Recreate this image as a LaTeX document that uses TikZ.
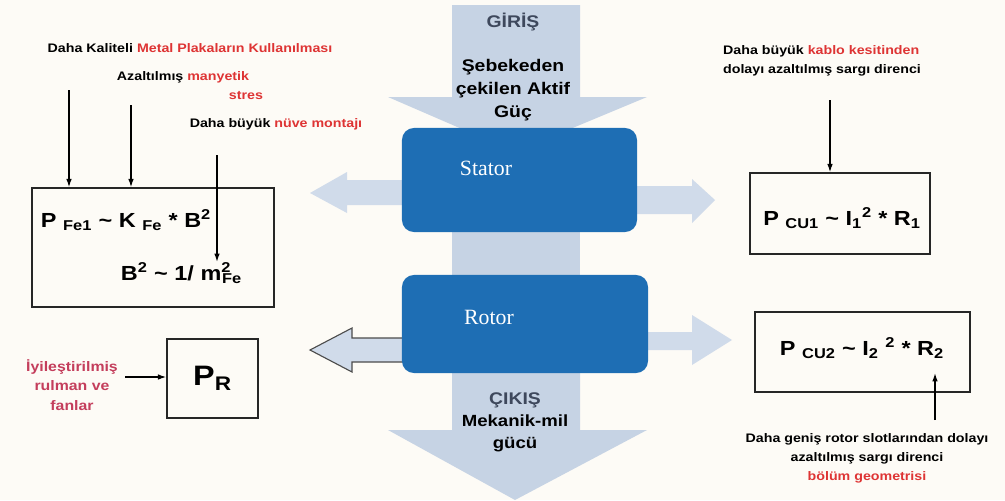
\documentclass[tikz,border=0pt]{standalone}
\usepackage{fontspec}
\setmainfont{Liberation Sans}[FakeStretch=1.15]
\newfontfamily\blockfont{Liberation Serif}
\usepackage{xcolor}
\usetikzlibrary{
    arrows.meta,
    positioning,
    calc
}
\definecolor{paper}{RGB}{253,251,246}
\definecolor{flow}{RGB}{198,211,228}
\definecolor{flowlight}{RGB}{208,219,234}
\definecolor{block}{RGB}{30,110,180}
\definecolor{hot}{RGB}{222,52,52}
\definecolor{rose}{RGB}{196,62,92}
\definecolor{slate}{RGB}{62,72,92}

\begin{document}
\begin{tikzpicture}[x=0.025cm, y=-0.025cm,
        frm/.style={rectangle, draw=black!85, line width=0.9pt},
        blk/.style={rectangle, rounded corners=0.3cm, fill=block},
        blktext/.style={text=white, font=\blockfont\fontsize{15.5}{18}\selectfont},
        note/.style={align=center, font=\bfseries\fontsize{8.8}{13.6}\selectfont},
        eq/.style={font=\bfseries\fontsize{14.5}{18}\selectfont},
        arrow/.style={-{Latex[length=6pt,width=4pt]}, line width=1pt},
        bigarrow/.style={fill=flow}
    ]
        % page
        \fill[paper] (0,0) rectangle (1005,500);
        \useasboundingbox (0,0) rectangle (1005,500);

        % power flow (input / output)
        \fill[bigarrow] (452,5) -- (580,5) -- (580,97) -- (647,97) -- (515,152)
            -- (388,97) -- (452,97) -- cycle;
        \fill[bigarrow] (452,225) rectangle (580,280);
        \fill[bigarrow] (452,368) -- (580,368) -- (580,430) -- (647,430) -- (515,500)
            -- (388,430) -- (452,430) -- cycle;

        % side losses
        \fill[flowlight] (410,180) -- (347,180) -- (347,172) -- (310,193) -- (347,213)
            -- (347,205) -- (410,205) -- cycle;
        \fill[flowlight] (630,186) -- (692,186) -- (692,179) -- (715,200) -- (692,223)
            -- (692,214) -- (630,214) -- cycle;
        \filldraw[fill=flowlight, draw=black!70, line width=0.8pt] (410,338) -- (352,338)
            -- (352,328) -- (310,350) -- (352,372) -- (352,362) -- (410,362) -- cycle;
        \fill[flowlight] (640,332) -- (692,332) -- (692,315) -- (732,340) -- (692,365)
            -- (692,350) -- (640,350) -- cycle;

        % machine parts
        \node[blk, minimum width=5.875cm, minimum height=2.6cm] (stator) at (519.5,180) {};
        \node[blk, minimum width=6.15cm, minimum height=2.45cm] (rotor) at (525,324) {};
        \node[blktext] (statorname) at (486,168) {Stator};
        \node[blktext] (rotorname) at (489,317) {Rotor};

        \node[font=\bfseries\fontsize{12}{14}\selectfont, text=slate] (giris) at (513,22) {GİRİŞ};
        \node[font=\bfseries\fontsize{12}{16.4}\selectfont, align=center] (sebeke) at (513,90)
            {Şebekeden\\çekilen Aktif\\Güç};
        \node[font=\bfseries\fontsize{11.5}{15.6}\selectfont, align=center] (cikis) at (515,422)
            {\textcolor{slate}{\fontsize{12}{15.6}\selectfont ÇIKIŞ}\\Mekanik-mil\\gücü};

        % iron losses
        \node[frm, minimum width=6.05cm, minimum height=2.975cm] (pfe) at (153,247.5) {};
        \node[eq, anchor=west] (pfeA) at (36,220)
            {P \textsubscript{Fe1} \textasciitilde{} K \textsubscript{Fe} * B\textsuperscript{2}};
        \node[eq, anchor=west] (pfeB) at (116,273)
            {B\textsuperscript{2} \textasciitilde{} 1/ m\textsuperscript{2}\kern-0.45em\textsubscript{Fe}};

        \node[note] (kaliteli) at (190,48) {Daha Kaliteli \textcolor{hot}{Metal Plakaların Kullanılması}};
        \node[note] (azalt) at (183,77) {Azaltılmış \textcolor{hot}{manyetik}};
        \node[note, text=hot] (stres) at (246,96) {stres};
        \node[note] (nuve) at (276,124) {Daha büyük \textcolor{hot}{nüve montajı}};

        \coordinate (a1) at (69,90);
        \coordinate (a2) at (131,105);
        \coordinate (a3) at (217,155);
        \coordinate (a3end) at (217,262);
        \draw[arrow] (a1) -- (a1 |- pfe.north);
        \draw[arrow] (a2) -- (a2 |- pfe.north);
        \draw[arrow] (a3) -- (a3end);

        % friction losses
        \node[frm, minimum width=2.275cm, minimum height=1.975cm] (pr) at (212.5,378.5) {};
        \node[font=\bfseries\fontsize{20}{24}\selectfont] (prtext) at (pr.center) {P\textsubscript{R}};
        \node[note, text=rose, font=\bfseries\fontsize{9.8}{14}\selectfont] (iyi) at (72,385)
            {İyileştirilmiş\\rulman ve\\fanlar};
        \coordinate (r1) at (125,377);
        \draw[arrow] (r1) -- (r1 -| pr.west);

        % copper losses, stator
        \node[frm, minimum width=4.5cm, minimum height=2.025cm] (pcu1) at (840,213.5) {};
        \node[eq] (pcu1text) at (842,218)
            {P \textsubscript{CU1} \textasciitilde{} I\textsubscript{1}\textsuperscript{2} * R\textsubscript{1}};
        \node[note, align=left] (kablo) at (822,61)
            {Daha büyük \textcolor{hot}{kablo kesitinden}\\dolayı azaltılmış sargı direnci};
        \coordinate (k1) at (830,100);
        \draw[arrow] (k1) -- (k1 |- pcu1.north);

        % copper losses, rotor
        \node[frm, minimum width=5.375cm, minimum height=2cm] (pcu2) at (862.5,352) {};
        \node[eq] (pcu2text) at (862,348)
            {P \textsubscript{CU2} \textasciitilde{} I\textsubscript{2} \textsuperscript{2} * R\textsubscript{2}};
        \node[note] (geo) at (867,458)
            {Daha geniş rotor slotlarından dolayı\\azaltılmış sargı direnci\\\textcolor{hot}{bölüm geometrisi}};
        \coordinate (g1) at (935,420);
        \coordinate (g1end) at (935,373);
        \draw[arrow] (g1) -- (g1end);
    \end{tikzpicture}
\end{document}
